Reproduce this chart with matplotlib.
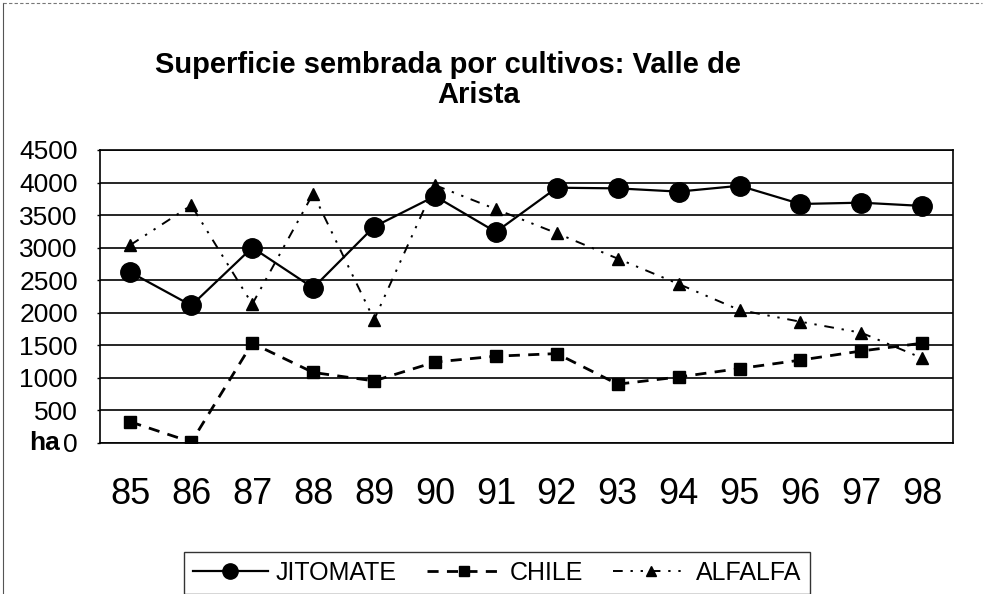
import matplotlib.pyplot as plt
from matplotlib.lines import Line2D

plt.rcParams['font.family'] = ['Liberation Sans', 'DejaVu Sans']

# Superficie sembrada (ha) por año
years = ['85', '86', '87', '88', '89', '90', '91', '92', '93', '94', '95', '96', '97', '98']
jitomate = [2620, 2110, 3000, 2380, 3320, 3790, 3240, 3920, 3910, 3860, 3950, 3670, 3690, 3640]
chile = [320, 10, 1530, 1080, 950, 1240, 1330, 1370, 900, 1010, 1140, 1270, 1410, 1530]
alfalfa = [3040, 3650, 2130, 3830, 1890, 3960, 3590, 3220, 2830, 2440, 2040, 1860, 1690, 1300]
yticks = [0, 500, 1000, 1500, 2000, 2500, 3000, 3500, 4000, 4500]

fig = plt.figure(figsize=(9.84, 5.94), dpi=100)
ax = fig.add_axes([0.1016, 0.2547, 0.8666, 0.4928])

x = range(len(years))
ax.plot(x, jitomate, color='black', lw=1.6, marker='o', ms=14, label='JITOMATE')
ax.plot(x, chile, color='black', lw=2.0, ls=(0, (4, 3)), marker='s', ms=8.5, label='CHILE')
ax.plot(x, alfalfa, color='black', lw=1.4, ls=(0, (5, 4, 1.2, 4, 1.2, 4)),
        marker='^', ms=8, label='ALFALFA')

ax.set_xlim(-0.5, len(years) - 0.5)
ax.set_ylim(0, 4500)
ax.set_yticks(yticks)
ax.set_yticklabels([str(v) for v in yticks], fontsize=19)
ax.set_xticks(list(x))
ax.set_xticklabels(years, fontsize=26)
ax.tick_params(axis='x', length=0, pad=25)
ax.tick_params(axis='y', length=2.5, width=1, pad=13.5)
ax.yaxis.grid(True, color='black', lw=1.2)
ax.set_axisbelow(True)
for s in ax.spines.values():
    s.set_color('black')
    s.set_linewidth(1.2)

# unidad junto al cero del eje
ax.text(-0.047, 0, 'ha', transform=ax.get_yaxis_transform(), ha='right', va='center',
        fontsize=19, fontweight='bold')

fig.text(448 / 984, 1 - 65 / 594, 'Superficie sembrada por cultivos: Valle de',
         ha='center', va='center', fontsize=21, fontweight='bold')
fig.text(479 / 984, 1 - 95 / 594, 'Arista',
         ha='center', va='center', fontsize=21, fontweight='bold')

leg = fig.legend(loc='upper center', bbox_to_anchor=(497 / 984, 1 - 552 / 594), ncol=3,
                 fontsize=18, frameon=True, fancybox=False, edgecolor='black',
                 handlelength=3.0, handletextpad=0.32, columnspacing=1.2,
                 borderpad=0.35, borderaxespad=0)
leg.get_frame().set_linewidth(1.0)
for h, size in zip(leg.legend_handles, [11, 7, 6.5]):
    h.set_markersize(size)

# marco exterior del gráfico (izquierda y arriba)
fig.add_artist(Line2D([0.003, 0.003], [0, 0.995], transform=fig.transFigure,
                      color='#555555', lw=0.8))
fig.add_artist(Line2D([0.003, 0.998], [0.995, 0.995], transform=fig.transFigure,
                      color='#777777', lw=0.8, ls=(0, (3, 2))))

fig.savefig('out.png', dpi=100)
